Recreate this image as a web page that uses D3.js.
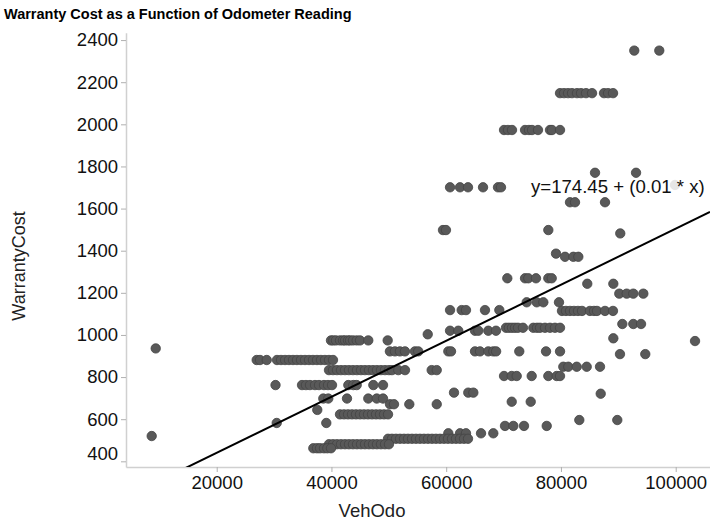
<!DOCTYPE html>
<html>
<head>
<meta charset="utf-8">
<script src="https://cdn.jsdelivr.net/npm/d3@7"></script>
<style>
  body { margin: 0; background: #fff; }
  text { font-family: "Liberation Sans", Arial, sans-serif; }
</style>
</head>
<body>
<svg id="chart" width="710" height="523"></svg>
<script>
// tick values
const xTicks = [20000, 40000, 60000, 80000, 100000];
const yTicks = [400, 600, 800, 1000, 1200, 1400, 1600, 1800, 2000, 2200, 2400];

// fitted line as drawn (label rounds the slope)
const fitIntercept = 174.45;
const fitSlope = 0.0133;
const fitLabel = "y=174.45 + (0.01 * x)";

// warranty cost bands -> odometer readings seen on each band
const costBands = [
  [2350, [92780, 97140]],
  [2148, [79840, 80540, 81240, 81930, 82800, 83500, 84370, 85420, 87510, 88210, 89080]],
  [1973, [70080, 70770, 71470, 73740, 74430, 74960, 76000, 78090, 78440, 79840]],
  [1770, [85940, 93090]],
  [1712, [99880]],
  [1701, [60670, 62410, 63800, 66420, 69030, 69550]],
  [1630, [81580, 82450, 87680]],
  [1498, [59440, 59960, 77800]],
  [1482, [90340]],
  [1386, [79140]],
  [1371, [80710, 82160, 83030]],
  [1269, [70650, 73740, 74310, 75650, 77800, 78390]],
  [1243, [84590, 89130]],
  [1196, [90170, 91460, 92610, 94360]],
  [1155, [74030, 75780, 76930, 79660]],
  [1118, [60670, 62700, 63450, 66760, 69260]],
  [1114, [80180, 80880, 81580, 82270, 82970, 83670, 85060, 85760, 86280, 87680, 89070]],
  [1052, [90700, 92610, 93960]],
  [1034, [70420, 70940, 71470, 71990, 72510, 73380, 75190, 75830, 76350, 77220, 78090, 78960, 79840]],
  [1020, [60670, 62110, 65020, 65600, 67340, 68680]],
  [1003, [56780]],
  [984, [89130]],
  [971, [103370]],
  [936, [9370]],
  [974, [39920, 40320, 40790, 41490, 42010, 42370, 42890, 43240, 43760, 44400, 44980, 46420, 49800]],
  [922, [50190, 51060, 51930, 52810, 54550, 55130, 60370, 60840, 65020, 65890, 67340, 68210, 68700, 72740, 77400, 79840]],
  [909, [90290, 94700]],
  [881, [26970, 27550, 28720, 30510, 31210, 31910, 32600, 33300, 33990, 34690, 35390, 36090, 36780, 37480, 38170, 38870, 39570, 40270]],
  [849, [80410, 81280, 82750, 84490, 86810]],
  [833, [39570, 40270, 40960, 41660, 42360, 43050, 43750, 44450, 45150, 45840, 46540, 47240, 47930, 48630, 49330, 50020, 50550, 51650, 52820, 57470, 58350]],
  [805, [70080, 71420, 72290, 74900, 77800, 79260, 79840]],
  [762, [30250, 34870, 35560, 36260, 37130, 37830, 38700, 39400, 40100, 42940, 43810, 44400, 47300, 48990]],
  [726, [61360, 63850, 64730]],
  [721, [86930]],
  [698, [38580, 39450, 42710, 46420, 47890, 48990]],
  [683, [71420, 74730]],
  [671, [50210, 50900, 53570, 58350]],
  [644, [37530]],
  [623, [41490, 42190, 42890, 43580, 44280, 44980, 45670, 46370, 47070, 47770, 48460, 49160, 49860]],
  [596, [83200, 89820]],
  [582, [30460, 39100]],
  [568, [70250, 71700, 73560, 77520]],
  [533, [60370, 62410, 63450, 66070, 68210]],
  [520, [8670]],
  [507, [49860, 50550, 51250, 51950, 52650, 53340, 54040, 54740, 55430, 56130, 56830, 57530, 58220, 58920, 59620, 60310, 61010, 61710, 62400, 63100, 63800]],
  [481, [39570, 40270, 40960, 41660, 42360, 43050, 43750, 44450, 45150, 45840, 46540, 47240, 47930, 48630, 49330, 50020]],
  [462, [36840, 37480, 38010, 38700, 39280, 39920]]
];

const points = costBands.flatMap(([cost, odos]) => odos.map(o => ({ odo: o, cost: cost })));

const svg = d3.select("#chart");
const plotLeft = 126, plotRight = 710, plotTop = 32.7, plotBottom = 467;

const x = d3.scaleLinear().domain([4190, 105980]).range([plotLeft, plotRight]);
const y = d3.scaleLinear().domain([373, 2435]).range([plotBottom, plotTop]);

// title
svg.append("text")
  .attr("x", 4).attr("y", 19)
  .attr("font-size", 14.5).attr("font-weight", "bold")
  .attr("fill", "#000")
  .text("Warranty Cost as a Function of Odometer Reading");

// axes
const xAxis = svg.append("g").attr("transform", `translate(0,${plotBottom})`)
  .call(d3.axisBottom(x).tickValues(xTicks).tickSize(5).tickSizeOuter(0).tickPadding(4).tickFormat(d3.format("d")));
const yAxis = svg.append("g").attr("transform", `translate(${plotLeft},0)`)
  .call(d3.axisLeft(y).tickValues(yTicks).tickSize(5).tickSizeOuter(0).tickPadding(3).tickFormat(d3.format("d")));

[xAxis, yAxis].forEach(g => {
  g.select(".domain").attr("stroke", "#d0d0d0").attr("stroke-width", 1.5);
  g.selectAll(".tick line").attr("stroke", "#b0b0b0");
  g.selectAll(".tick text").attr("font-size", 18.5).attr("fill", "#111")
    .attr("font-family", "Liberation Sans, Arial, sans-serif");
});
// bottom y label sits a little higher than its tick
yAxis.selectAll(".tick").filter(d => d === 400).select("text").attr("dy", "-0.1em");

// axis titles
svg.append("text")
  .attr("x", 372).attr("y", 517)
  .attr("text-anchor", "middle")
  .attr("font-size", 18.5).attr("fill", "#222")
  .text("VehOdo");

svg.append("text")
  .attr("transform", "translate(25,266) rotate(-90)")
  .attr("text-anchor", "middle")
  .attr("font-size", 18).attr("fill", "#222")
  .text("WarrantyCost");

// clip
svg.append("defs").append("clipPath").attr("id", "plot-clip")
  .append("rect").attr("x", plotLeft).attr("y", plotTop)
  .attr("width", plotRight - plotLeft).attr("height", plotBottom - plotTop);

const plot = svg.append("g").attr("clip-path", "url(#plot-clip)");

plot.selectAll("circle.pt")
  .data(points)
  .join("circle")
  .attr("class", "pt")
  .attr("cx", d => x(d.odo))
  .attr("cy", d => y(d.cost))
  .attr("r", 4.7)
  .attr("fill", "#595959")
  .attr("stroke", "#444")
  .attr("stroke-width", 0.8);

// regression line
const xd = x.domain();
plot.append("line")
  .attr("x1", x(xd[0])).attr("y1", y(fitIntercept + fitSlope * xd[0]))
  .attr("x2", x(xd[1])).attr("y2", y(fitIntercept + fitSlope * xd[1]))
  .attr("stroke", "#000")
  .attr("stroke-width", 2);

// equation label with light backing
const lab = svg.append("g");
const labText = lab.append("text")
  .attr("x", 531).attr("y", 193)
  .attr("font-size", 18.6).attr("fill", "#111")
  .text(fitLabel);
const bb = labText.node().getBBox();
lab.insert("rect", "text")
  .attr("x", bb.x + 120).attr("y", bb.y + 3)
  .attr("width", bb.width - 120).attr("height", bb.height - 6)
  .attr("fill", "#fff").attr("opacity", 0.85);
</script>
</body>
</html>
